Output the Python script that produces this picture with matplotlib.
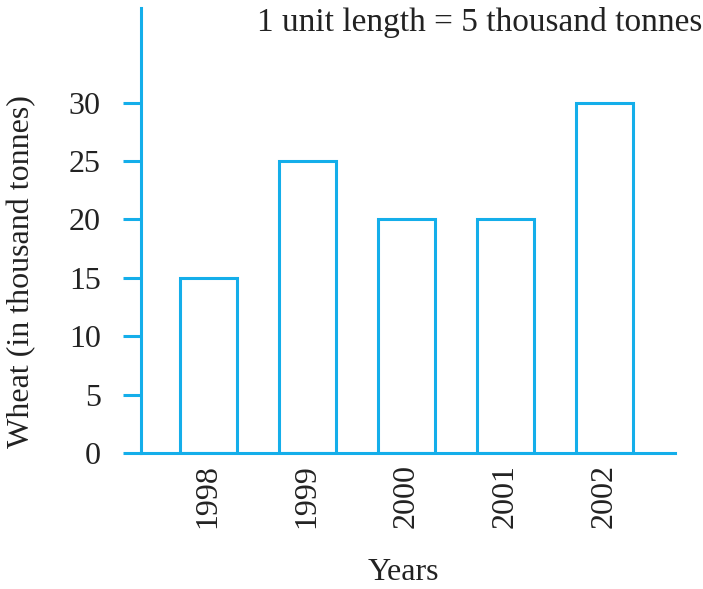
import matplotlib.pyplot as plt

years = ['1998', '1999', '2000', '2001', '2002']
wheat = [15, 25, 20, 20, 30]
yticks = [0, 5, 10, 15, 20, 25, 30]

cyan = '#14aeea'
plt.rcParams['font.family'] = ['Liberation Serif', 'DejaVu Serif']

fig = plt.figure(figsize=(7.03, 5.89), dpi=100)
W, H = 703, 589
ax = fig.add_axes([141 / W, (H - 453) / H, (675 - 141) / W, (453 - 8) / H])

x = list(range(len(years)))
ax.bar(x, wheat, width=0.575, color='white', edgecolor=cyan, linewidth=2.2, zorder=3)

ax.set_xlim(-0.677, 4.71)
ax.set_ylim(0, 38.1)
ax.set_yticks(yticks)
ax.set_yticklabels([str(v) for v in yticks], fontsize=23, color='#222222')
ax.set_xticks(x)
ax.set_xticklabels(years, rotation=90, fontsize=23, color='#222222', va='top')

for s in ['top', 'right']:
    ax.spines[s].set_visible(False)
for s in ['left', 'bottom']:
    ax.spines[s].set_color(cyan)
    ax.spines[s].set_linewidth(2.2)
    ax.spines[s].set_zorder(4)

ax.tick_params(axis='y', direction='out', length=13, width=2.2, color=cyan, pad=16)
ax.tick_params(axis='x', length=0, pad=8)

fig.text(22 / W, 1 - 272 / H, 'Wheat (in thousand tonnes)', rotation=90,
         ha='center', va='center', fontsize=23, color='#222222')
fig.text(403 / W, 1 - 573 / H, 'Years', ha='center', va='center', fontsize=23, color='#222222')
fig.text(702 / W, 1 - 22 / H, '1 unit length = 5 thousand tonnes', ha='right', va='center',
         fontsize=24, color='#222222')

fig.savefig('out.png', dpi=100)
